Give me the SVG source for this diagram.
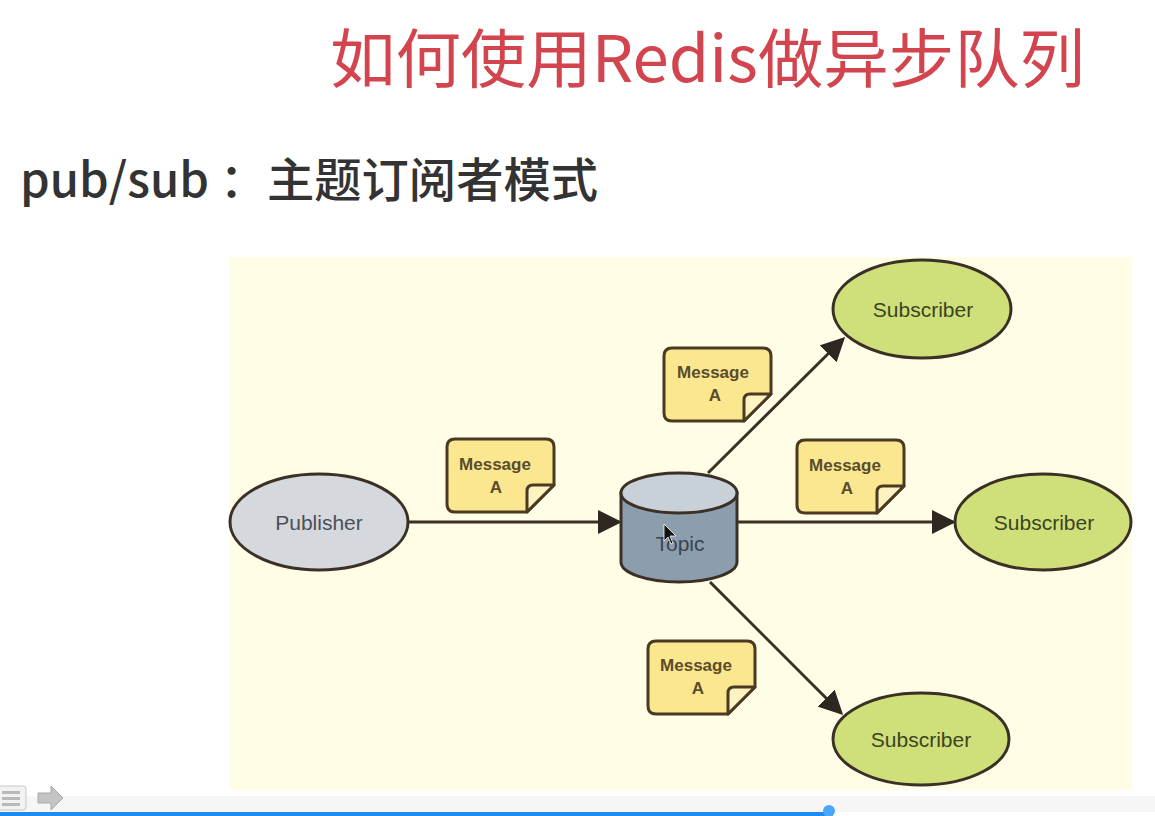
<svg xmlns="http://www.w3.org/2000/svg" width="1155" height="816" viewBox="0 0 1155 816">
<style>
.ln{stroke:#3b3026;stroke-width:3;fill:none}
.note{fill:#fbe78f;stroke:#4a3a22;stroke-width:3;stroke-linejoin:round}
.fold{fill:#fdf3c0;stroke:#4a3a22;stroke-width:3;stroke-linejoin:round}
.mt{font-family:"Liberation Sans",Arial,sans-serif;font-size:17px;font-weight:bold;fill:#5a4c2c;text-anchor:middle}
.sub{fill:#cfe07a;stroke:#3b3026;stroke-width:3}
.st{font-family:"Liberation Sans",Arial,sans-serif;font-size:21px;fill:#3c4422;text-anchor:middle}
</style>
<defs>
<marker id="ah" markerWidth="8" markerHeight="8" refX="7" refY="4" orient="auto" markerUnits="strokeWidth">
<path d="M0,0 L8,4 L0,8 Z" fill="#2e2620"/>
</marker>
<g id="notedef">
<path class="note" d="M8,0 H99 Q107,0 107,8 V46 L80,73 H8 Q0,73 0,65 V8 Q0,0 8,0 Z"/>
<path class="fold" d="M80,73 V52 Q80,46 86,46 H107 Z"/>
</g>
</defs>
<rect width="1155" height="816" fill="#ffffff"/>
<text x="330" y="82" font-family="Noto Sans CJK SC, Noto Sans, sans-serif" font-size="64" fill="#d3454e" textLength="755" lengthAdjust="spacingAndGlyphs">如何使用Redis做异步队列</text>
<text x="20" y="197" font-family="Noto Sans CJK SC, Noto Sans, sans-serif" font-size="47" font-weight="500" fill="#333333" textLength="578" lengthAdjust="spacingAndGlyphs">pub/sub ：主题订阅者模式</text>
<rect x="229" y="257" width="903" height="533" fill="#fffde6"/>
<g id="connectors">
<line class="ln" x1="408" y1="522" x2="619" y2="522" marker-end="url(#ah)"/>
<line class="ln" x1="737" y1="522" x2="953" y2="522" marker-end="url(#ah)"/>
<line class="ln" x1="708" y1="473" x2="843" y2="339" marker-end="url(#ah)"/>
<line class="ln" x1="710" y1="582" x2="841" y2="713" marker-end="url(#ah)"/>
</g>
<g id="publisher">
<ellipse cx="319" cy="522" rx="89" ry="48" fill="#d5d8dc" stroke="#3b3026" stroke-width="3"/>
<text x="319" y="530" font-family="Liberation Sans, Arial, sans-serif" font-size="21" fill="#4a5058" text-anchor="middle">Publisher</text>
</g>
<g id="topic">
<path d="M621,493 V562 A58,20 0 0 0 737,562 V493 Z" fill="#8c9eae" stroke="#3b3026" stroke-width="3"/>
<ellipse cx="679" cy="493" rx="58" ry="20" fill="#c9d1d8" stroke="#3b3026" stroke-width="3"/>
<text x="680" y="551" font-family="Liberation Sans, Arial, sans-serif" font-size="21" fill="#3a4450" text-anchor="middle">Topic</text>
<path d="M664,524 V541 L668,537 L671,544 L673,543 L670,536 L676,536 Z" fill="#111" stroke="#fff" stroke-width="0.8"/>
</g>
<g id="sub-top">
<ellipse class="sub" cx="922" cy="309" rx="89" ry="49"/>
<text class="st" x="923" y="317">Subscriber</text>
</g>
<g id="sub-mid">
<ellipse class="sub" cx="1043" cy="522" rx="88" ry="48"/>
<text class="st" x="1044" y="530">Subscriber</text>
</g>
<g id="sub-bot">
<ellipse class="sub" cx="921" cy="739" rx="88" ry="46"/>
<text class="st" x="921" y="747">Subscriber</text>
</g>
<g id="msg1">
<use href="#notedef" x="447" y="439"/>
<text class="mt" x="495" y="470">Message</text>
<text class="mt" x="496" y="493">A</text>
</g>
<g id="msg2">
<use href="#notedef" x="664" y="348"/>
<text class="mt" x="713" y="378">Message</text>
<text class="mt" x="715" y="401">A</text>
</g>
<g id="msg3">
<use href="#notedef" x="797" y="440"/>
<text class="mt" x="845" y="471">Message</text>
<text class="mt" x="847" y="494">A</text>
</g>
<g id="msg4">
<use href="#notedef" x="648" y="641"/>
<text class="mt" x="696" y="671">Message</text>
<text class="mt" x="698" y="694">A</text>
</g>
<g id="toolbar">
<rect x="0" y="796" width="1155" height="16" fill="#f6f6f6"/>
<rect x="0" y="812" width="830" height="4" fill="#1c8cf2"/>
<ellipse cx="829" cy="811" rx="6" ry="6" fill="#4aa6f8"/>
<rect x="-4" y="786" width="30" height="24" rx="3" fill="#f2f2f2" stroke="#c8c8c8"/>
<rect x="2" y="791" width="18" height="3" fill="#b8b8b8"/>
<rect x="2" y="797" width="18" height="3" fill="#b8b8b8"/>
<rect x="2" y="803" width="18" height="3" fill="#b8b8b8"/>
<path d="M38,793 H51 V786 L63,798 L51,810 V803 H38 Z" fill="#c4c4c4" stroke="#a8a8a8"/>
</g>
</svg>
